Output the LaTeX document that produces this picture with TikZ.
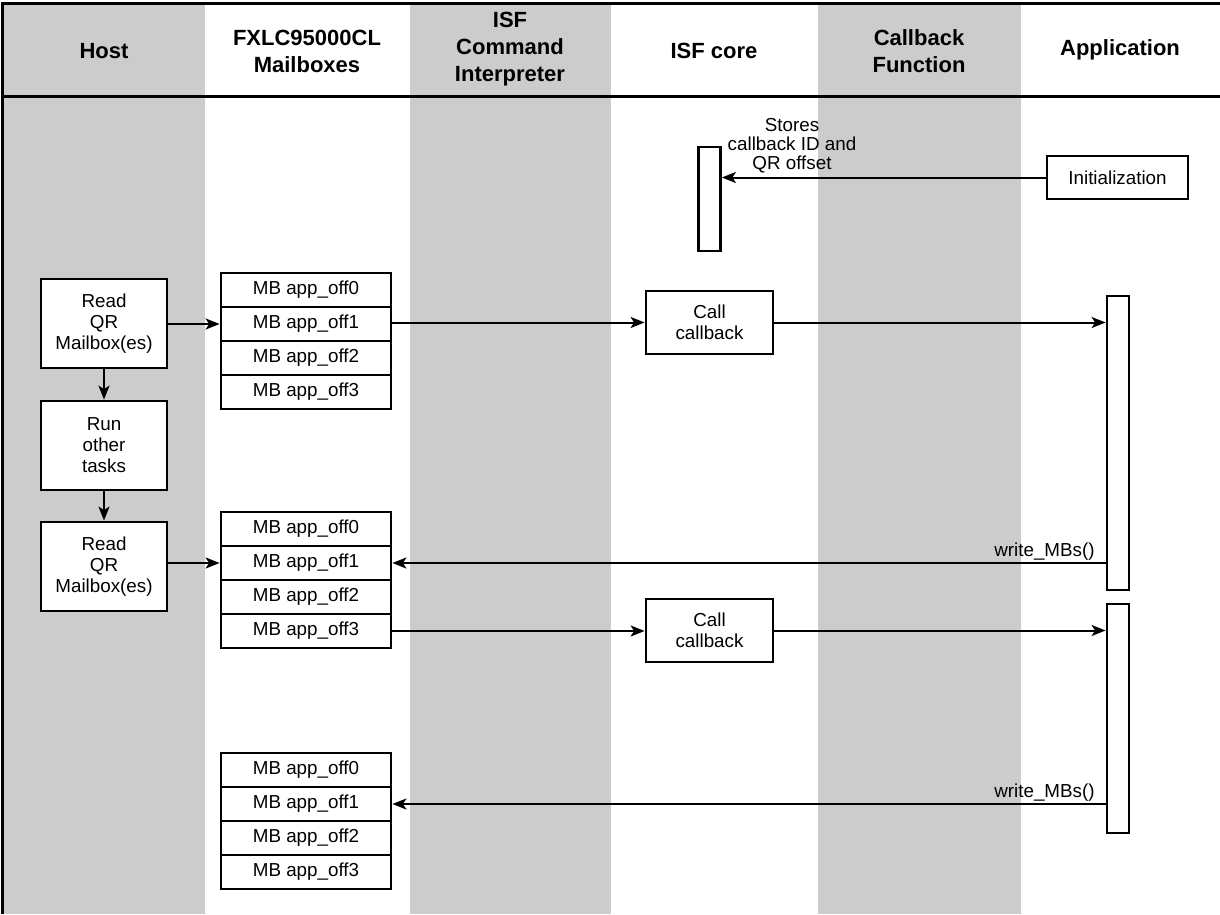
\documentclass[tikz,border=0pt]{standalone}
\usepackage{fontspec}
\setmainfont{Liberation Sans}
\usetikzlibrary{arrows.meta}
\definecolor{lane}{RGB}{204,204,204}
\begin{document}
\begin{tikzpicture}[x=1pt,y=-1pt,
  box/.style={draw, line width=2.8pt, fill=white, inner sep=0pt, align=center,
    font=\fontsize{18.8}{21}\selectfont},
  hostbox/.style={box, minimum width=126pt, minimum height=89pt},
  cbbox/.style={box, minimum width=127pt, minimum height=63pt},
  mb/.style={box, minimum width=170pt, minimum height=34pt},
  bar/.style={draw, line width=2.8pt, fill=white, inner sep=0pt, minimum width=22pt},
  hdr/.style={align=center, inner sep=0pt, font=\fontsize{22}{27}\selectfont\bfseries},
  arr/.style={line width=2pt, -{Stealth[length=14pt,width=11pt,inset=3.5pt]}},
  lbl/.style={inner sep=0pt, align=center, font=\fontsize{18.8}{19}\selectfont}
]
% page and swimlanes
\useasboundingbox (0,0) rectangle (1220,914);
\fill[white] (0,0) rectangle (1220,914);
\fill[lane] (3,3) rectangle (205,914);
\fill[lane] (410,3) rectangle (611,914);
\fill[lane] (818,3) rectangle (1021,914);
\draw[line width=3pt] (2,914) -- (2,3) -- (1220,3);
\draw[line width=3pt] (2,96) -- (1220,96);

% lane titles
\node[hdr] (hHost) at (104,51) {Host};
\node[hdr] (hMb)   at (307,51) {FXLC95000CL\\Mailboxes};
\node[hdr] (hCi)   at (510,49) {ISF\\Command\\Interpreter};
\node[hdr] (hCore) at (714,51) {ISF core};
\node[hdr] (hCb)   at (919,51) {Callback\\Function};
\node[hdr] (hApp)  at (1120,50) {Application};

% initialization
\node[bar, minimum height=104pt] (store) at (709.5,199) {};
\node[box, minimum width=141pt, minimum height=43pt] (init) at (1117.5,177.5) {Initialization};
\draw[arr] (init.west) -- (init.west -| store.east);
\node[lbl] (storetxt) at (792,146) {Stores\\callback ID and\\QR offset};

% host activity
\node[hostbox] (rq1) at (104,323.5) {Read\\QR\\Mailbox(es)};
\node[hostbox] (run) at (104,445.5) {Run\\other\\tasks};
\node[hostbox] (rq2) at (104,566.5) {Read\\QR\\Mailbox(es)};
\draw[arr] (rq1.south) -- (run.north);
\draw[arr] (run.south) -- (rq2.north);

% mailbox stacks
\foreach \s/\t in {1/273,2/512,3/753}{
  \foreach \r in {0,...,3}{
    \node[mb] (s\s r\r) at (306,{\t+17+34*\r}) {MB app\_off\r};
  }
}

% callbacks and application activations
\node[cbbox] (cb1) at (709.5,322.5) {Call\\callback};
\node[cbbox] (cb2) at (709.5,630.5) {Call\\callback};
\node[bar, minimum height=294pt] (app1) at (1118,443) {};
\node[bar, minimum height=229pt] (app2) at (1118,718.5) {};

% messages
\draw[arr] (rq1.east |- s1r1) -- (s1r1.west);
\draw[arr] (s1r1.east |- cb1) -- (cb1.west);
\draw[arr] (cb1.east) -- (cb1.east -| app1.west);
\draw[arr] (app1.west |- s2r1) -- node[pos=0, anchor=south east, inner sep=2pt, xshift=-8pt,
  font=\fontsize{18.8}{21}\selectfont] {write\_MBs()} (s2r1.east);
\draw[arr] (rq2.east |- s2r1) -- (s2r1.west);
\draw[arr] (s2r3.east) -- (s2r3.east -| cb2.west);
\draw[arr] (cb2.east) -- (cb2.east -| app2.west);
\draw[arr] (app2.west |- s3r1) -- node[pos=0, anchor=south east, inner sep=2pt, xshift=-8pt,
  font=\fontsize{18.8}{21}\selectfont] {write\_MBs()} (s3r1.east);
\end{tikzpicture}
\end{document}
